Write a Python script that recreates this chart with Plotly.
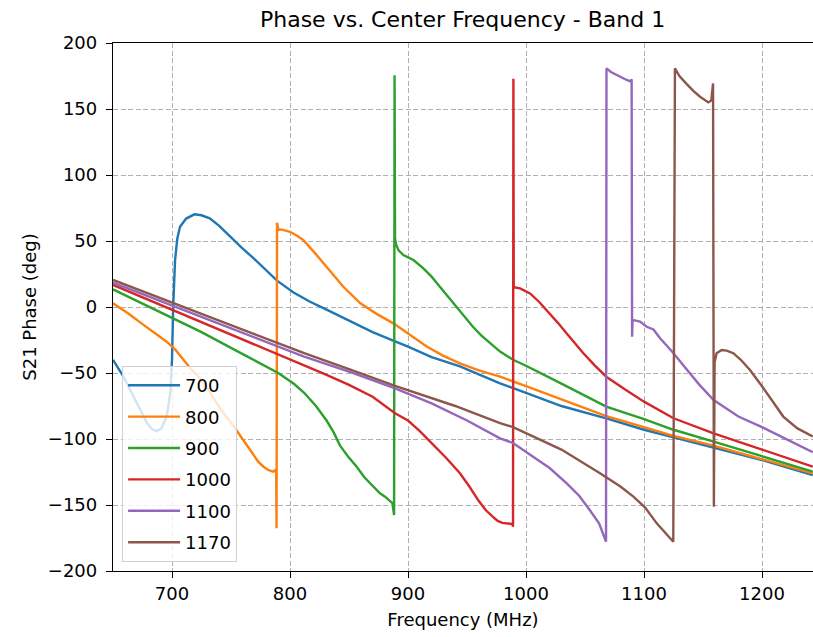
import plotly.graph_objects as go

# centre frequencies (legend labels)
centers = ["700", "800", "900", "1000", "1100", "1170"]
colors = ["#1f77b4", "#ff7f0e", "#2ca02c", "#d62728", "#9467bd", "#8c564b"]

# S21 phase traces (frequency MHz, phase deg)
f_700 = [650, 659, 667.5, 678.8, 683, 687, 691, 695.5, 698.6, 700, 701, 702.6, 704.5, 706.8, 712, 719, 725, 732,
         740, 749, 759, 769, 779, 789, 803, 817, 831, 851, 870, 889, 900, 920, 944, 960, 978, 1000, 1030, 1068,
         1100, 1125, 1159, 1200, 1243]
p_700 = [-40, -53, -68, -88, -92.5, -94, -92, -83, -65, -40, 0, 35.6, 52, 60.8, 67, 70.2, 69.5, 67.2,
         61.5, 53.5, 45, 37, 28.5, 20, 11, 4, -2, -11, -19, -26, -30, -38, -45, -51, -57.8, -65, -75, -84.3,
         -93, -98.7, -106.5, -116, -127.3]

f_800 = [650, 663, 675, 686, 695.5, 703, 709.6, 716, 723.7, 731, 738, 745, 752, 760.4, 767, 773.1, 777.5, 781.6,
         785.8, 787.6, 788.3, 788.6, 789.0, 790.2, 792.5, 796, 800, 806, 811.3, 821, 831, 845, 859.6, 873, 887.6,
         900, 915.8, 930, 944, 960, 978, 1000, 1030, 1068, 1100, 1125, 1159, 1200, 1243]
p_800 = [2.8, -5, -13, -20, -26.3, -32.5, -40, -47, -54, -63, -73, -82, -90, -100.8, -109, -117.2, -121, -123.5,
         -124.8, -123.5, -126, -167.7, 63.9, 58.3, 58.8, 58, 57, 54, 50.7, 41, 30.5, 15.5, 2.8, -5, -12.4,
         -20, -30, -37, -42.7, -48, -52.8, -60, -70, -82.6, -91, -97.7, -105, -115, -126]

f_900 = [650, 675, 700, 725, 750, 775, 790, 803, 812, 822, 831, 837, 842.4, 849, 856.5, 863, 870.6, 876, 880.5,
         884.2, 886.8, 888.2, 888.6, 889.0, 890, 892, 896, 900, 904.6, 913, 920, 927, 934, 941, 948, 955, 962,
         970, 978, 989, 1000, 1030, 1068, 1100, 1125, 1159, 1200, 1243]
p_900 = [13.4, 2.4, -8.6, -19, -31, -43, -50, -58, -65, -75, -86, -95, -105, -113, -121, -129, -136, -141, -143.7,
         -146.2, -148.5, -157.6, 175.5, 52, 47, 43, 39.4, 37.5, 35.6, 29.3, 23, 15.4, 8, 0.2, -7.5, -15, -21.5,
         -28, -33.8, -40, -44.5, -58, -75.5, -85, -93, -102, -113, -124.7]

f_1000 = [650, 700, 750, 775, 808, 830, 850, 870, 889, 900, 910, 921, 932, 944, 952, 960, 966, 972, 976, 980,
          985, 988.5, 989.0, 989.3, 989.6, 995, 1003.4, 1011, 1020, 1027, 1034.5, 1041, 1048.6, 1058, 1068, 1084,
          1100, 1125, 1159, 1200, 1243]
p_1000 = [16.7, -2, -21, -30, -42.7, -51, -59, -68, -80.5, -86, -94, -104, -114, -126, -136, -147, -154, -159,
          -162, -163.5, -164, -164.5, -166.5, 173, 15, 14.1, 10.3, 4, -4.7, -12, -20, -27, -35, -44, -52.8, -62.5,
          -71.7, -84.3, -95.7, -108, -121]

f_1100 = [650, 700, 750, 812, 850, 889, 920, 950, 978, 989, 1006, 1020, 1034.5, 1045, 1054, 1062, 1067.8, 1068.2,
          1072, 1076.8, 1081, 1085.3, 1088.5, 1089.5, 1089.9, 1090.3, 1096.6, 1102.3, 1108, 1113.6, 1119, 1125,
          1135, 1147, 1159, 1180, 1200, 1220, 1243]
p_1100 = [18.4, 1.2, -16, -37.6, -49, -61.6, -73, -86, -99.5, -103, -113.4, -122, -133.6, -143, -153.8, -164,
          -177.8, 180.8, 178, 175.8, 173.5, 172, 171, 172.5, -22.5, -9.8, -11, -15, -17, -23.7, -29, -35,
          -46, -59, -70.5, -83, -91, -100, -110]

f_1170 = [650, 700, 750, 812, 850, 889, 940, 978, 989, 1030, 1062.7, 1080, 1091, 1101, 1110.8, 1118, 1124.8,
          1126.2, 1130, 1136, 1142, 1147.5, 1151, 1154.5, 1157, 1158.5, 1159.2, 1159.8, 1161.5, 1165.8, 1170,
          1175.7, 1182, 1189.8, 1200, 1210, 1218, 1230, 1243]
p_1170 = [20.5, 3.2, -14, -35, -47, -59.8, -75, -88, -91, -108, -126, -136, -143.7, -152, -163.9, -171, -177.8,
          180.8, 175, 169, 163.5, 159.3, 157, 155, 156.5, 169.4, -151.3, -42, -35, -32.6, -33,
          -35, -40, -47.7, -60, -73, -83, -92, -98]

freqs = [f_700, f_800, f_900, f_1000, f_1100, f_1170]
phases = [p_700, p_800, p_900, p_1000, p_1100, p_1170]

x_ticks = [700, 800, 900, 1000, 1100, 1200]
y_ticks = [-200, -150, -100, -50, 0, 50, 100, 150, 200]

font = "DejaVu Sans"

fig = go.Figure()
for name, col, f, p in zip(centers, colors, freqs, phases):
    fig.add_trace(go.Scatter(x=f, y=p, mode="lines", name=name, legendgroup=name,
                             line=dict(color=col, width=2.4)))

axis_style = dict(showline=True, linecolor="black", linewidth=1.3, automargin=False,
                  ticks="outside", ticklen=6, tickwidth=1.3, tickcolor="black",
                  showgrid=True, gridcolor="#b0b0b0", griddash="5px,2.5px", gridwidth=1.3,
                  zeroline=False, tickfont=dict(family=font, size=18, color="black"))

fig.update_xaxes(range=[650, 1243.2], tickvals=x_ticks, mirror=True,
                 title=dict(text="Frequency (MHz)", font=dict(family=font, size=18, color="black"), standoff=10),
                 **axis_style)
fig.update_yaxes(range=[-200, 200], tickvals=y_ticks, mirror=False, ticklabelstandoff=5,
                 title=dict(text="S21 Phase (deg)", font=dict(family=font, size=18, color="black"), standoff=6),
                 **axis_style)

fig.update_layout(
    width=813, height=637,
    margin=dict(l=113, r=0, t=43, b=66),
    plot_bgcolor="white", paper_bgcolor="white",
    font=dict(family=font, color="black"),
    title=dict(text="Phase vs. Center Frequency - Band 1", x=0.569, xanchor="center",
               y=0.969, yanchor="middle", font=dict(family=font, size=22, color="black")),
    legend=dict(x=0.013, y=0.017, xanchor="left", yanchor="bottom",
                bgcolor="rgba(255,255,255,0.8)", bordercolor="#d0d0d0", borderwidth=1,
                font=dict(family=font, size=18, color="black"), itemwidth=52,
                traceorder="grouped", tracegroupgap=5),
    showlegend=True,
)

# drop the default page margin so the figure fills the window
fig.write_html("out.html", config={"displayModeBar": False},
               post_script="document.body.style.margin='0';document.body.style.overflow='hidden';")
